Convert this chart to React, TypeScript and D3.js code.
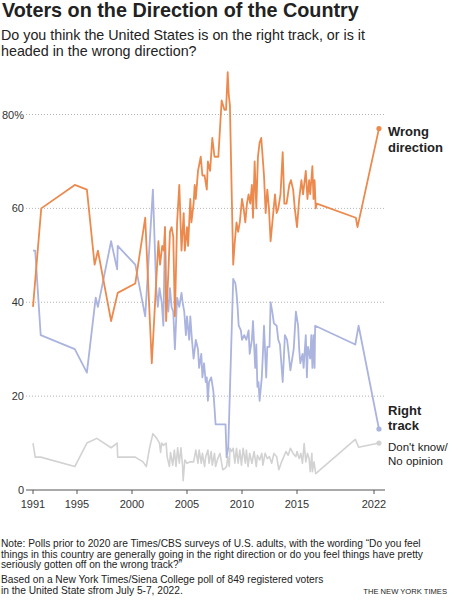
import React from "react";
import * as d3 from "d3";

const wrongDirection: [number, number][] = [
  [1991.0, 39], [1991.75, 60], [1994.8, 65], [1995.9, 64], [1996.6, 48], [1996.9, 51],
  [1998.1, 36], [1998.7, 42], [2000.3, 44], [2001.2, 58], [2001.8, 27], [2002.4, 53],
  [2002.55, 48], [2002.75, 52], [2002.9, 51], [2003.0, 56], [2003.1, 36], [2003.3, 46],
  [2003.45, 55], [2003.6, 56], [2003.75, 54], [2003.9, 37], [2004.1, 57], [2004.3, 65],
  [2004.5, 51], [2004.7, 59], [2004.8, 51], [2005.0, 56], [2005.1, 52], [2005.3, 62],
  [2005.4, 57], [2005.6, 61], [2005.7, 65], [2005.8, 62], [2006.0, 68], [2006.25, 71],
  [2006.4, 67], [2006.6, 67], [2006.8, 64], [2006.9, 70], [2007.1, 68], [2007.3, 75],
  [2007.5, 71], [2007.85, 71], [2008.15, 83], [2008.4, 81], [2008.55, 81], [2008.7, 89],
  [2008.8, 84], [2008.9, 82], [2009.2, 48], [2009.35, 53], [2009.5, 57], [2009.65, 55],
  [2009.8, 57], [2010.0, 62], [2010.15, 60], [2010.3, 57], [2010.45, 61], [2010.6, 63],
  [2010.75, 61], [2010.9, 65], [2011.0, 58], [2011.15, 70], [2011.3, 60], [2011.45, 71],
  [2011.6, 74], [2011.75, 75], [2012.0, 67], [2012.15, 59], [2012.3, 64], [2012.45, 60],
  [2012.6, 53], [2012.8, 58], [2013.0, 63], [2013.15, 59], [2013.3, 60], [2013.5, 63],
  [2013.7, 72], [2013.85, 61], [2014.05, 61], [2014.3, 65], [2014.45, 66], [2014.65, 64],
  [2014.8, 60], [2015.0, 56], [2015.2, 62], [2015.4, 66], [2015.55, 63], [2015.8, 68],
  [2015.95, 62], [2016.1, 66], [2016.2, 63], [2016.3, 66], [2016.4, 69], [2016.5, 62],
  [2016.6, 66], [2016.7, 60], [2016.8, 61], [2020.35, 58], [2020.5, 56], [2022.45, 77],
];

const rightTrack: [number, number][] = [
  [1991.0, 51], [1991.2, 51], [1991.7, 33], [1994.8, 30], [1995.9, 25], [1996.7, 41],
  [1996.9, 39], [1998.1, 53], [1998.65, 47], [1998.7, 52], [2000.3, 48], [2001.2, 37],
  [2001.9, 64], [2002.2, 43], [2002.35, 39], [2002.5, 43], [2002.7, 40], [2002.85, 35],
  [2003.0, 56], [2003.1, 43], [2003.3, 38], [2003.45, 43], [2003.6, 39], [2003.75, 38],
  [2003.9, 30], [2004.1, 41], [2004.3, 39], [2004.5, 42], [2004.6, 40], [2004.75, 38],
  [2004.9, 33], [2005.0, 37], [2005.2, 32], [2005.3, 37], [2005.45, 32], [2005.6, 28],
  [2005.8, 32], [2006.0, 30], [2006.1, 26], [2006.3, 29], [2006.4, 24], [2006.55, 27],
  [2006.7, 23], [2006.8, 24], [2006.9, 19], [2007.0, 23], [2007.2, 24], [2007.4, 21],
  [2007.6, 14], [2008.1, 14], [2008.5, 14], [2008.6, 7], [2008.75, 9], [2009.2, 45],
  [2009.4, 44], [2009.5, 42], [2009.6, 39], [2009.7, 35], [2009.9, 34], [2010.0, 32],
  [2010.2, 33], [2010.4, 32], [2010.6, 34], [2010.7, 29], [2010.9, 32], [2011.0, 36],
  [2011.2, 26], [2011.3, 31], [2011.4, 22], [2011.5, 23], [2011.6, 19], [2011.8, 24],
  [2011.9, 29], [2012.0, 35], [2012.2, 24], [2012.3, 30.5], [2012.5, 30.5], [2012.6, 40],
  [2012.75, 38], [2012.9, 35.5], [2013.15, 35], [2013.3, 32], [2013.45, 31], [2013.7, 23],
  [2013.9, 33], [2014.1, 32], [2014.2, 30], [2014.4, 25.5], [2014.5, 27], [2014.7, 30],
  [2014.9, 38], [2015.1, 35], [2015.2, 30], [2015.3, 27], [2015.5, 29], [2015.6, 26],
  [2015.8, 33], [2015.9, 24], [2016.0, 30.5], [2016.2, 28], [2016.3, 33], [2016.4, 26],
  [2016.5, 33], [2016.6, 26], [2016.65, 35], [2020.3, 31], [2020.6, 35], [2022.45, 13],
];

const dontKnow: [number, number][] = [
  [1991.0, 10], [1991.2, 7], [1991.7, 7], [1994.8, 5], [1995.9, 10], [1996.8, 11],
  [1998.1, 9], [1998.65, 10], [1998.7, 7], [2000.3, 7], [2001.0, 6], [2001.3, 5],
  [2001.6, 9], [2001.9, 12], [2002.25, 11], [2002.5, 10], [2002.6, 8], [2002.7, 10],
  [2002.85, 9.5], [2003.1, 10], [2003.2, 7], [2003.4, 5], [2003.5, 8], [2003.7, 5.3],
  [2003.85, 8.5], [2004.0, 5], [2004.15, 9], [2004.3, 5.7], [2004.45, 9], [2004.6, 5],
  [2004.65, 2], [2004.8, 6.4], [2005.0, 5.7], [2005.3, 6], [2005.6, 6], [2005.8, 8.5],
  [2006.0, 5.7], [2006.1, 8.5], [2006.3, 5.7], [2006.4, 7.8], [2006.6, 5], [2006.7, 7.1],
  [2006.9, 8.5], [2007.0, 5.7], [2007.2, 8.2], [2007.3, 5.3], [2007.5, 7.8], [2007.6, 5],
  [2007.8, 6.7], [2008.0, 7.8], [2008.25, 4.3], [2008.45, 4.6], [2008.6, 5], [2008.7, 7.1],
  [2008.85, 5], [2008.9, 8.9], [2009.05, 8.2], [2009.2, 8.9], [2009.35, 5.7], [2009.5, 8.9],
  [2009.65, 5.7], [2009.8, 8.5], [2009.95, 5.3], [2010.1, 8.9], [2010.3, 5.7], [2010.4, 8.5],
  [2010.55, 5], [2010.7, 7.8], [2010.9, 5.7], [2011.1, 8.2], [2011.3, 5], [2011.4, 7.4],
  [2011.6, 6.4], [2011.8, 7.8], [2011.9, 5.3], [2012.1, 7.8], [2012.3, 6.7], [2012.5, 7.1],
  [2012.7, 5.7], [2012.9, 7.8], [2013.15, 7.1], [2013.35, 4.3], [2013.6, 6], [2013.8, 7.1],
  [2014.0, 8.2], [2014.2, 7.4], [2014.4, 8.9], [2014.65, 7.8], [2014.9, 7.1], [2015.0, 8.2],
  [2015.2, 6.7], [2015.35, 7.8], [2015.5, 5.7], [2015.65, 9.9], [2015.8, 6], [2015.95, 7.8],
  [2016.1, 6.7], [2016.2, 3.9], [2016.35, 7.8], [2016.4, 3.9], [2016.55, 6], [2016.7, 3.5],
  [2020.3, 10.8], [2020.6, 9.1], [2022.45, 10],
];

const yTicks = [0, 20, 40, 60, 80];
const xTicks = [1991, 1995, 2000, 2005, 2010, 2015, 2022];

const ORANGE = "#ec8a4e";
const BLUE = "#abb4de";
const GRAY = "#d2d2d2";
const FONT = "'Liberation Sans', Arial, Helvetica, sans-serif";

export default function App() {
  const x = d3.scaleLinear().domain([1991, 2022]).range([33, 374]);
  const y = d3.scaleLinear().domain([0, 80]).range([490, 114.5]);
  const line = d3
    .line<[number, number]>()
    .x((d) => x(d[0]))
    .y((d) => y(d[1]))
    .curve(d3.curveLinear);

  const series = [
    { data: dontKnow, color: GRAY, w: 1.6 },
    { data: rightTrack, color: BLUE, w: 1.8 },
    { data: wrongDirection, color: ORANGE, w: 1.8 },
  ];

  return (
    <svg
      width={449}
      height={600}
      style={{ position: "absolute", left: 0, top: 0, background: "#fff" }}
      fontFamily={FONT}
    >
      <text x={2} y={16.5} fontSize={19.8} fontWeight="bold" fill="#222">
        Voters on the Direction of the Country
      </text>
      <text x={1} y={39.5} fontSize={14.3} fill="#222">
        Do you think the United States is on the right track, or is it
      </text>
      <text x={1} y={55.5} fontSize={14.3} fill="#222">
        headed in the wrong direction?
      </text>

      {yTicks.map((t) =>
        t === 0 ? null : (
          <line
            key={"g" + t}
            x1={26}
            x2={385}
            y1={y(t)}
            y2={y(t)}
            stroke="#b5b5b5"
            strokeWidth={1}
            strokeDasharray="1,2"
          />
        )
      )}
      {yTicks.map((t) => (
        <text
          key={"yl" + t}
          x={24}
          y={y(t) + 4}
          fontSize={11}
          textAnchor="end"
          fill="#333"
        >
          {t === 80 ? "80%" : String(t)}
        </text>
      ))}
      <line x1={26} x2={385} y1={y(0)} y2={y(0)} stroke="#555" strokeWidth={1} />
      {xTicks.map((t) => (
        <g key={"xt" + t}>
          <line x1={x(t)} x2={x(t)} y1={y(0)} y2={y(0) + 4} stroke="#555" />
          <text x={x(t)} y={508} fontSize={11} textAnchor="middle" fill="#333">
            {t}
          </text>
        </g>
      ))}

      {series.map((s, i) => (
        <path
          key={"s" + i}
          d={line(s.data) || ""}
          fill="none"
          stroke={s.color}
          strokeWidth={s.w}
          strokeLinejoin="round"
        />
      ))}
      {series.map((s, i) => {
        const last = s.data[s.data.length - 1];
        return (
          <circle key={"c" + i} cx={x(last[0])} cy={y(last[1])} r={2.6} fill={s.color} />
        );
      })}

      <text x={388} y={136} fontSize={13} fontWeight="bold" fill="#222">
        Wrong
      </text>
      <text x={388} y={152} fontSize={13} fontWeight="bold" fill="#222">
        direction
      </text>
      <text x={388} y={415} fontSize={13} fontWeight="bold" fill="#222">
        Right
      </text>
      <text x={388} y={430} fontSize={13} fontWeight="bold" fill="#222">
        track
      </text>
      <text x={388} y={451} fontSize={11.5} fill="#222">
        Don't know/
      </text>
      <text x={388} y={465} fontSize={11.5} fill="#222">
        No opinion
      </text>

      <g fontSize={10.2} fill="#222">
        <text x={1} y={547}>
          Note: Polls prior to 2020 are Times/CBS surveys of U.S. adults, with the wording “Do you feel
        </text>
        <text x={1} y={557.5}>
          things in this country are generally going in the right direction or do you feel things have pretty
        </text>
        <text x={1} y={568}>
          seriously gotten off on the wrong track?”
        </text>
        <text x={1} y={583}>
          Based on a New York Times/Siena College poll of 849 registered voters
        </text>
        <text x={1} y={593.5}>
          in the United State sfrom July 5-7, 2022.
        </text>
      </g>
      <text x={447} y={593.5} fontSize={7.6} textAnchor="end" fill="#222">
        THE NEW YORK TIMES
      </text>
    </svg>
  );
}
